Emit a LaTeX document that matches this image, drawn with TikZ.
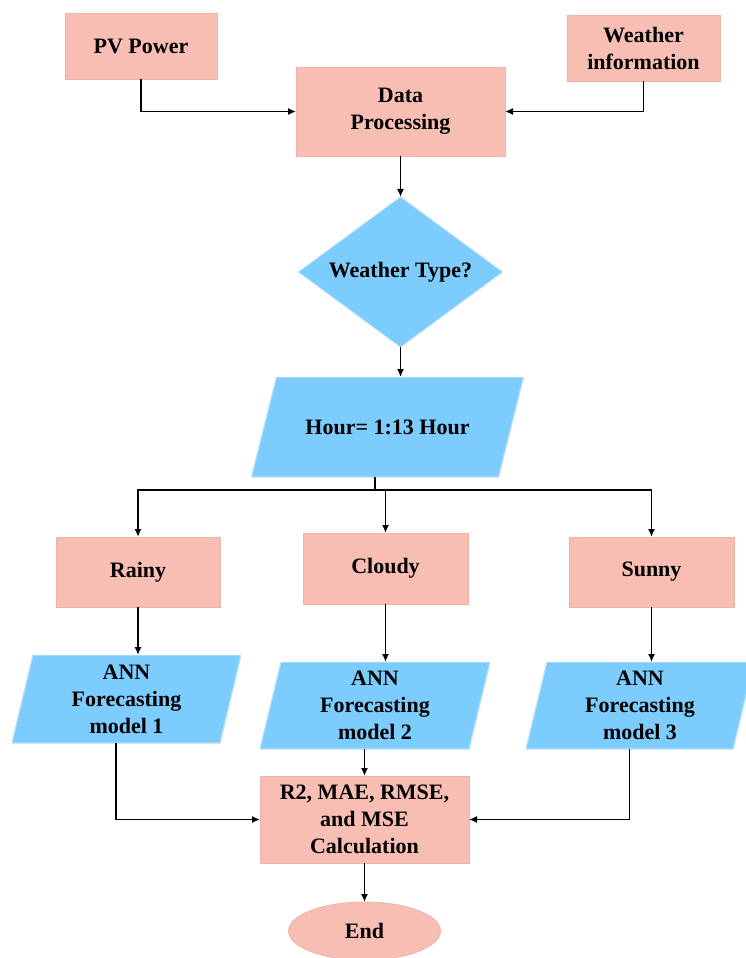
\documentclass[tikz,border=0pt]{standalone}
\usepackage{fontspec}
\setmainfont{Liberation Serif}
\usetikzlibrary{arrows.meta,positioning,shapes.geometric}
\usepackage{xcolor}
\definecolor{boxpink}{HTML}{F8BDB3}
\definecolor{pinkline}{HTML}{EDB3A4}
\definecolor{boxblue}{HTML}{7DCCFE}
\definecolor{blueline}{HTML}{B5DEF8}

\begin{document}
\begin{tikzpicture}[
  x=1pt, y=1pt,
  font=\fontsize{22}{27}\selectfont\bfseries,
  box/.style={draw=pinkline, fill=boxpink, line width=0.8pt, align=center, outer sep=0pt},
  decision/.style={diamond, fill=boxblue, draw=blueline, line width=0.8pt, aspect=1.36,
    minimum width=204pt, minimum height=150pt, inner sep=0pt, outer sep=0pt},
  datanode/.style={rectangle, align=center, inner sep=0pt, outer sep=0pt,
    path picture={\filldraw[fill=boxblue, draw=blueline, line width=1.2pt]
      ([xshift=#1]path picture bounding box.north west)
      -- (path picture bounding box.north east)
      -- ([xshift=-#1]path picture bounding box.south east)
      -- (path picture bounding box.south west) -- cycle;}},
  terminal/.style={ellipse, fill=boxpink, draw=pinkline, line width=0.8pt,
    minimum width=152pt, minimum height=58pt, inner sep=0pt, outer sep=0pt},
  arrow/.style={-{Latex[length=8pt,width=7pt]}, line width=1.6pt},
  line/.style={line width=1.6pt}
]
\useasboundingbox (0,0) rectangle (746,-958);

\node[box, minimum width=209pt, minimum height=89pt] (dp) at (400.5,-111.5) {Data\\Processing};
\node[box, minimum width=152pt, minimum height=66pt, left=79pt of dp.north west,
  anchor=south east, yshift=-12pt] (pv) {PV Power};
\node[box, minimum width=153pt, minimum height=66pt, right=62pt of dp.north east,
  anchor=south west, yshift=-14pt] (wi) {Weather\\information};

\node[decision, below=41pt of dp] (dec) {Weather Type?};
\node[datanode=25pt, minimum width=272pt, minimum height=100pt, below=30pt of dec,
  xshift=-13pt] (hour) {Hour= 1:13 Hour};

\node[box, minimum width=165pt, minimum height=71pt, below=56pt of hour,
  xshift=-2pt] (cloudy) {Cloudy};
\node[box, minimum width=164pt, minimum height=70pt, left=83pt of cloudy,
  yshift=-3.5pt] (rainy) {Rainy};
\node[box, minimum width=165pt, minimum height=70pt, right=101pt of cloudy,
  yshift=-3.5pt] (sunny) {Sunny};

\node[datanode=21pt, minimum width=229pt, minimum height=88pt, below=48pt of rainy,
  xshift=-11.5pt] (ann1) {ANN\\Forecasting\\model 1};
\node[datanode=21pt, minimum width=230pt, minimum height=87pt, below=58pt of cloudy,
  xshift=-10.5pt] (ann2) {ANN\\Forecasting\\model 2};
\node[datanode=21pt, minimum width=228pt, minimum height=87pt, below=55pt of sunny,
  xshift=-11.5pt] (ann3) {ANN\\Forecasting\\model 3};

\node[box, minimum width=209pt, minimum height=87pt, below=27pt of ann2,
  xshift=-10.5pt] (calc) {R2, MAE, RMSE,\\and MSE\\Calculation};
\node[terminal, below=39pt of calc] (end) {End};

% inputs
\draw[arrow] (pv.south) |- (dp.west);
\draw[arrow] (wi.south) |- (dp.east);
\draw[arrow] (dp) -- (dec);
\draw[arrow] (dec.south) -- (dec.south |- hour.north);

% split by weather type
\coordinate (split) at ([xshift=-12.5pt, yshift=-13pt]hour.south);
\draw[line] (split |- hour.south) -- (split);
\draw[arrow] (split) -| (rainy.north);
\draw[arrow] (split) -| (cloudy.north);
\draw[arrow] (split) -| (sunny.north);

\draw[arrow] (rainy) -- (rainy |- ann1.north);
\draw[arrow] (cloudy) -- (cloudy |- ann2.north);
\draw[arrow] (sunny) -- (sunny |- ann3.north);

% models to evaluation
\draw[arrow] ([xshift=-10.5pt]ann1.south) |- (calc.west);
\draw[arrow] (calc |- ann2.south) -- (calc.north);
\draw[arrow] ([xshift=-10.5pt]ann3.south) |- (calc.east);
\draw[arrow] (calc) -- (end);

\end{tikzpicture}
\end{document}
